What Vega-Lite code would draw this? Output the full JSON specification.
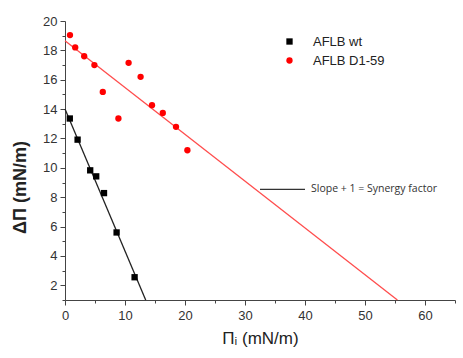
{
  "$schema": "https://vega.github.io/schema/vega-lite/v6.json",
  "width": 390,
  "height": 279,
  "autosize": "none",
  "padding": {"left": 65, "top": 21, "right": 8, "bottom": 58},
  "background": "white",
  "config": {
    "view": {"stroke": null},
    "font": "Liberation Sans",
    "axis": {"grid": false, "domainColor": "#444", "tickColor": "#444", "labelColor": "#333", "labelFont": "Liberation Sans", "labelFontSize": 13, "titleFont": "Liberation Sans", "titleColor": "#222"}
  },
  "datasets": {
    "pts": [
      {"x": 0.8, "y": 13.36, "series": "AFLB wt"},
      {"x": 2.1, "y": 11.92, "series": "AFLB wt"},
      {"x": 4.2, "y": 9.83, "series": "AFLB wt"},
      {"x": 5.2, "y": 9.42, "series": "AFLB wt"},
      {"x": 6.5, "y": 8.28, "series": "AFLB wt"},
      {"x": 8.6, "y": 5.6, "series": "AFLB wt"},
      {"x": 11.6, "y": 2.55, "series": "AFLB wt"},
      {"x": 0.83, "y": 19.04, "series": "AFLB D1-59"},
      {"x": 1.7, "y": 18.2, "series": "AFLB D1-59"},
      {"x": 3.2, "y": 17.6, "series": "AFLB D1-59"},
      {"x": 4.9, "y": 17.0, "series": "AFLB D1-59"},
      {"x": 6.3, "y": 15.17, "series": "AFLB D1-59"},
      {"x": 8.9, "y": 13.36, "series": "AFLB D1-59"},
      {"x": 10.6, "y": 17.15, "series": "AFLB D1-59"},
      {"x": 12.6, "y": 16.2, "series": "AFLB D1-59"},
      {"x": 14.5, "y": 14.27, "series": "AFLB D1-59"},
      {"x": 16.3, "y": 13.74, "series": "AFLB D1-59"},
      {"x": 18.5, "y": 12.79, "series": "AFLB D1-59"},
      {"x": 20.4, "y": 11.2, "series": "AFLB D1-59"}
    ],
    "fits": [
      {"x": 0, "y": 14.0, "series": "AFLB wt"},
      {"x": 13.45, "y": 1.0, "series": "AFLB wt"},
      {"x": 0, "y": 18.66, "series": "AFLB D1-59"},
      {"x": 55.4, "y": 1.0, "series": "AFLB D1-59"}
    ],
    "note": [
      {"x": 32.5, "x2": 40.0, "y": 8.53, "label": "Slope + 1 = Synergy factor"}
    ]
  },
  "resolve": {"axis": {"x": "independent", "y": "independent"}},
  "layer": [
    {
      "data": {"name": "fits"},
      "transform": [{"filter": "datum.series === 'AFLB wt'"}],
      "mark": {"type": "line", "color": "#222", "strokeWidth": 1.3},
      "encoding": {
        "x": {"field": "x", "type": "quantitative", "scale": {"domain": [0, 65], "nice": false, "zero": false},
              "axis": {"orient": "bottom", "values": [0, 5, 10, 15, 20, 25, 30, 35, 40, 45, 50, 55, 60, 65],
                       "labelOverlap": false, "labelBound": false, "labelFlush": false,
                       "labelExpr": "datum.value % 10 === 0 && datum.value < 65 ? datum.label : ''",
                       "tickSize": {"condition": {"test": "datum.value % 10 === 0", "value": 5}, "value": 3},
                       "labelPadding": 4, "title": "Πᵢ (mN/m)", "titleFontSize": 17, "titleFontWeight": "normal", "titlePadding": 8}},
        "y": {"field": "y", "type": "quantitative", "scale": {"domain": [1, 20], "nice": false, "zero": false},
              "axis": {"orient": "left", "values": [1, 2, 3, 4, 5, 6, 7, 8, 9, 10, 11, 12, 13, 14, 15, 16, 17, 18, 19, 20],
                       "labelOverlap": false, "labelBound": false, "labelFlush": false,
                       "labelExpr": "datum.value % 2 === 0 ? datum.label : ''",
                       "tickSize": {"condition": {"test": "datum.value % 2 === 0", "value": 5}, "value": 3},
                       "labelPadding": 3, "title": "ΔΠ (mN/m)", "titleFontSize": 18, "titleFontWeight": "bold", "titlePadding": 13, "titleY": 166}}
      }
    },
    {
      "data": {"name": "fits"},
      "transform": [{"filter": "datum.series === 'AFLB D1-59'"}],
      "mark": {"type": "line", "color": "#ff4d4d", "strokeWidth": 1.3},
      "encoding": {
        "x": {"field": "x", "type": "quantitative", "axis": null},
        "y": {"field": "y", "type": "quantitative", "axis": null}
      }
    },
    {
      "data": {"name": "pts"},
      "mark": {"type": "point", "filled": true, "opacity": 1},
      "encoding": {
        "x": {"field": "x", "type": "quantitative", "axis": null},
        "y": {"field": "y", "type": "quantitative", "axis": null},
        "color": {"field": "series", "type": "nominal", "scale": {"domain": ["AFLB wt", "AFLB D1-59"], "range": ["#000000", "#ff0000"]},
                  "legend": {"title": null, "orient": "none", "legendX": 218, "legendY": 14, "labelFontSize": 13, "labelColor": "#222", "labelOffset": 17, "rowPadding": 5, "symbolSize": 40}},
        "shape": {"field": "series", "type": "nominal", "scale": {"domain": ["AFLB wt", "AFLB D1-59"], "range": ["square", "circle"]}},
        "size": {"value": 40}
      }
    },
    {
      "data": {"name": "note"},
      "mark": {"type": "rule", "color": "#333", "strokeWidth": 1.3},
      "encoding": {
        "x": {"field": "x", "type": "quantitative", "axis": null},
        "x2": {"field": "x2"},
        "y": {"field": "y", "type": "quantitative", "axis": null}
      }
    },
    {
      "data": {"name": "note"},
      "mark": {"type": "text", "align": "left", "baseline": "middle", "dx": 6, "font": "Open Sans", "fontSize": 10.5, "color": "#333"},
      "encoding": {
        "x": {"field": "x2", "type": "quantitative", "axis": null},
        "y": {"field": "y", "type": "quantitative", "axis": null},
        "text": {"field": "label"}
      }
    }
  ]
}
